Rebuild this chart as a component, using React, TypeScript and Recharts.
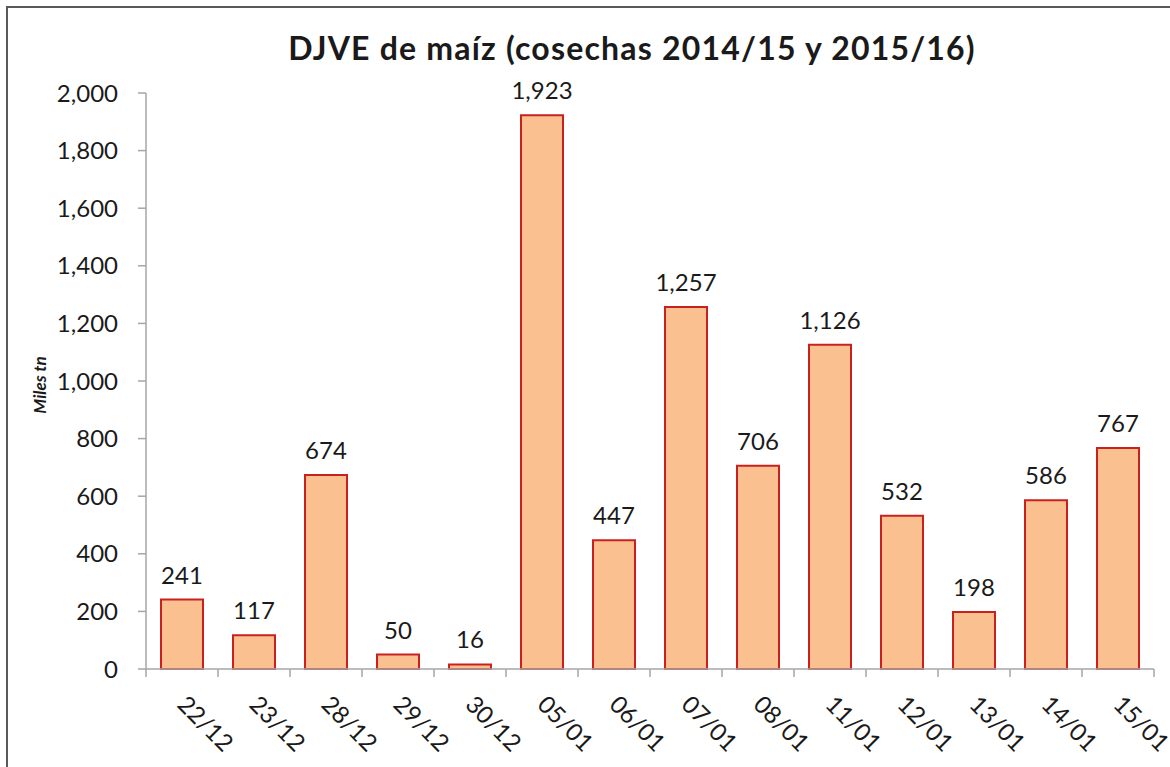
import React from 'react';
import { BarChart, Bar, XAxis, YAxis, LabelList } from 'recharts';

const categories = ['22/12', '23/12', '28/12', '29/12', '30/12', '05/01', '06/01', '07/01', '08/01', '11/01', '12/01', '13/01', '14/01', '15/01'];
const volumes = [241, 117, 674, 50, 16, 1923, 447, 1257, 706, 1126, 532, 198, 586, 767];
const yTicks = [0, 200, 400, 600, 800, 1000, 1200, 1400, 1600, 1800, 2000];
const title = 'DJVE de maíz (cosechas 2014/15 y 2015/16)';
const yLabel = 'Miles tn';

const data = categories.map((c, i) => ({ fecha: c, valor: volumes[i] }));

const W = 1170;
const H = 767;
const MARGIN = { top: 93, right: 16, left: 0, bottom: 0 };
const Y_W = 146;
const X_H = 98;
const PLOT_W = W - MARGIN.left - MARGIN.right - Y_W;
const HALF_BAND = PLOT_W / categories.length / 2;
const FONT = 'Lato, "Open Sans", sans-serif';
const AXIS_COLOR = '#A6A6A6';

const fmt = (v: number) => v.toLocaleString('en-US');

const XTick = (props: any) => {
  const { x, y, payload, index } = props;
  const last = index === categories.length - 1;
  const tx = x - 6;
  const ty = y + 37;
  return (
    <g>
      <line x1={x - HALF_BAND} x2={x - HALF_BAND} y1={y} y2={y + 8} stroke={AXIS_COLOR} strokeWidth={1.5} />
      {last && <line x1={x + HALF_BAND} x2={x + HALF_BAND} y1={y} y2={y + 8} stroke={AXIS_COLOR} strokeWidth={1.5} />}
      <text x={tx} y={ty} transform={`rotate(45, ${tx}, ${ty})`} textAnchor="start" fontFamily={FONT} fontSize={24} fill="#1a1a1a">
        {payload.value}
      </text>
    </g>
  );
};

export default function App() {
  return (
    <div style={{ position: 'absolute', left: 0, top: 0, width: W, height: H, background: '#fff', overflow: 'hidden' }}>
      <div style={{ position: 'absolute', left: 6, top: 6, right: -10, bottom: -10, borderLeft: '2px solid #5a5a5a', borderTop: '2px solid #5a5a5a' }} />
      <div style={{ position: 'absolute', left: 0, top: 0 }}>
        <BarChart width={W} height={H} data={data} margin={MARGIN} barCategoryGap={0}>
          <XAxis
            dataKey="fecha"
            height={X_H}
            tickSize={0}
            tickMargin={0}
            interval={0}
            stroke={AXIS_COLOR}
            strokeWidth={1.5}
            tickLine={false}
            tick={<XTick />}
          />
          <YAxis
            width={Y_W}
            domain={[0, 2000]}
            ticks={yTicks}
            tickFormatter={fmt}
            tickSize={8}
            tickMargin={20}
            stroke={AXIS_COLOR}
            strokeWidth={1.5}
            interval={0}
            tick={{ fontFamily: FONT, fontSize: 24, fill: '#1a1a1a' }}
          />
          <Bar dataKey="valor" fill="#FAC090" stroke="#C9211E" strokeWidth={2} barSize={42} isAnimationActive={false}>
            <LabelList dataKey="valor" position="top" offset={16} formatter={(v: any) => fmt(Number(v))} style={{ fontFamily: FONT, fontSize: 24, fill: '#1a1a1a' }} />
          </Bar>
        </BarChart>
      </div>
      <svg width={W} height={H} style={{ position: 'absolute', left: 0, top: 0, pointerEvents: 'none' }}>
        <text x={632} y={60} textAnchor="middle" fontFamily={FONT} fontWeight="bold" fontSize={32} letterSpacing={1.2} fill="#1a1a1a">
          {title}
        </text>
        <text x={46} y={385} textAnchor="middle" transform="rotate(-90, 46, 385)" fontFamily={FONT} fontWeight="bold" fontStyle="italic" fontSize={17} fill="#1a1a1a">
          {yLabel}
        </text>
      </svg>
    </div>
  );
}
